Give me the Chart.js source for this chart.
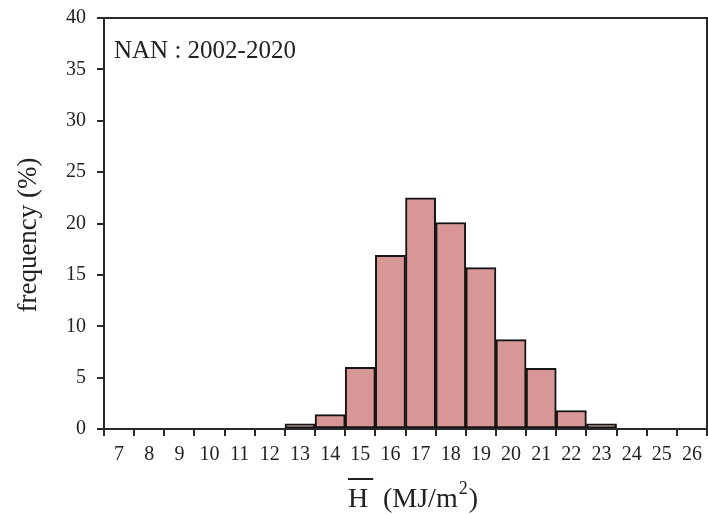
<!DOCTYPE html>
<html>
<head>
<meta charset="utf-8">
<script src="https://cdn.jsdelivr.net/npm/chart.js@4.4.1/dist/chart.umd.min.js"></script>
<style>
  html, body { margin: 0; padding: 0; background: #ffffff; }
  #wrap { width: 708px; height: 515px; position: relative; }
</style>
</head>
<body>
<div id="wrap"><canvas id="hist" width="708" height="515"></canvas></div>
<script>
// Daily-mean irradiation bins (MJ/m2) and their frequency (%)
const bins = ['7','8','9','10','11','12','13','14','15','16','17','18','19','20','21','22','23','24','25','26'];
const frequency = [0, 0, 0, 0, 0, 0, 0.5, 1.4, 6.0, 16.9, 22.5, 20.1, 15.7, 8.7, 5.9, 1.8, 0.5, 0, 0, 0];
const yTicks = [0, 5, 10, 15, 20, 25, 30, 35, 40];
const stationLabel = 'NAN : 2002-2020';

const SERIF = "'Liberation Serif', 'Times New Roman', serif";
const INK = '#222222';

// Frame round the plot, axis titles and the station note
const decorations = {
  id: 'decorations',
  afterDraw(chart) {
    const { ctx, chartArea: a } = chart;
    ctx.save();
    ctx.strokeStyle = '#2a2a2a';
    ctx.lineWidth = 2;
    ctx.beginPath();
    ctx.moveTo(a.left, a.top);
    ctx.lineTo(a.right, a.top);
    ctx.lineTo(a.right, a.bottom);
    ctx.stroke();

    ctx.fillStyle = INK;
    // station note
    ctx.font = '25px ' + SERIF;
    ctx.textAlign = 'left';
    ctx.textBaseline = 'alphabetic';
    ctx.fillText(stationLabel, 114, 58);

    // y title
    ctx.save();
    ctx.translate(36, 235);
    ctx.rotate(-Math.PI / 2);
    ctx.font = '27px ' + SERIF;
    ctx.textAlign = 'center';
    ctx.textBaseline = 'alphabetic';
    ctx.fillText('frequency (%)', 0, 0);
    ctx.restore();

    // x title: H with overline, then (MJ/m^2)
    ctx.font = '28px ' + SERIF;
    ctx.textAlign = 'left';
    ctx.textBaseline = 'alphabetic';
    const base = 507;
    const hx = 348;
    ctx.fillText('H', hx, base);
    const hw = ctx.measureText('H').width;
    ctx.lineWidth = 2;
    ctx.strokeStyle = INK;
    ctx.beginPath();
    ctx.moveTo(hx, 479);
    ctx.lineTo(hx + hw + 5, 479);
    ctx.stroke();
    let x = 383;
    ctx.fillText('(MJ/m', x, base);
    x += ctx.measureText('(MJ/m').width;
    ctx.font = '18px ' + SERIF;
    ctx.fillText('2', x + 1, base - 13);
    x += ctx.measureText('2').width + 2;
    ctx.font = '28px ' + SERIF;
    ctx.fillText(')', x, base);
    ctx.restore();
  }
};

new Chart(document.getElementById('hist'), {
  type: 'bar',
  data: {
    labels: bins,
    datasets: [{
      data: frequency,
      backgroundColor: '#d99696',
      borderColor: '#141414',
      borderWidth: 2,
      borderSkipped: false,
      barPercentage: 1.0,
      categoryPercentage: 1.0
    }]
  },
  plugins: [decorations],
  options: {
    responsive: false,
    animation: false,
    layout: { padding: { left: 0, top: 18, right: 1, bottom: 0 } },
    plugins: { legend: { display: false }, tooltip: { enabled: false } },
    scales: {
      x: {
        grid: { display: true, drawOnChartArea: false, drawTicks: true, tickLength: 7, color: '#2a2a2a', lineWidth: 2, offset: true },
        border: { display: true, color: '#2a2a2a', width: 2 },
        ticks: { color: INK, font: { family: SERIF, size: 20, lineHeight: 1.0 }, padding: 9, maxRotation: 0, autoSkip: false },
        afterFit(scale) {
          scale.height = 86;
          scale.paddingLeft = 0;
          scale.paddingRight = 0;
        }
      },
      y: {
        min: 0,
        max: 40,
        afterBuildTicks(scale) { scale.ticks = yTicks.map(v => ({ value: v })); },
        grid: { display: true, drawOnChartArea: false, drawTicks: true, tickLength: 7, color: '#2a2a2a', lineWidth: 2 },
        border: { display: true, color: '#2a2a2a', width: 2 },
        ticks: { color: INK, font: { family: SERIF, size: 20, lineHeight: 1.0 }, padding: 11 },
        afterFit(scale) {
          scale.width = 104;
          scale.paddingTop = 0;
          scale.paddingBottom = 0;
        }
      }
    }
  }
});
</script>
</body>
</html>
